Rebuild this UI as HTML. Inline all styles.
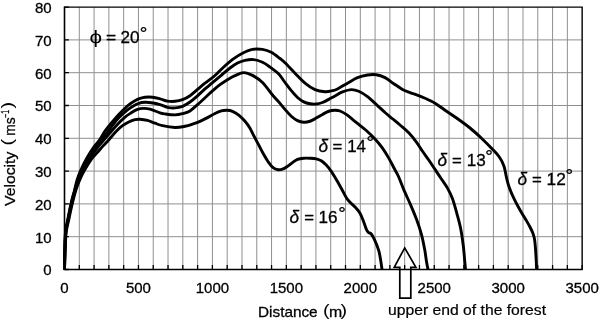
<!DOCTYPE html>
<html lang="en"><head><meta charset="utf-8"><title>Velocity vs distance</title>
<style>html,body{margin:0;padding:0;background:#fff}svg{display:block}text{font-family:"Liberation Sans",sans-serif;fill:#000}.cal{font-family:"Liberation Sans",sans-serif}</style></head><body>
<svg width="600" height="320" viewBox="0 0 600 320">
<rect width="600" height="320" fill="#fff"/>
<path d="M79.29 7.10 V269.50 M94.08 7.10 V269.50 M108.87 7.10 V269.50 M123.66 7.10 V269.50 M138.45 7.10 V269.50 M153.24 7.10 V269.50 M168.03 7.10 V269.50 M182.82 7.10 V269.50 M197.61 7.10 V269.50 M212.40 7.10 V269.50 M227.19 7.10 V269.50 M241.98 7.10 V269.50 M256.77 7.10 V269.50 M271.56 7.10 V269.50 M286.35 7.10 V269.50 M301.14 7.10 V269.50 M315.93 7.10 V269.50 M330.72 7.10 V269.50 M345.51 7.10 V269.50 M360.30 7.10 V269.50 M375.09 7.10 V269.50 M389.88 7.10 V269.50 M404.67 7.10 V269.50 M419.46 7.10 V269.50 M434.25 7.10 V269.50 M449.04 7.10 V269.50 M463.83 7.10 V269.50 M478.62 7.10 V269.50 M493.41 7.10 V269.50 M508.20 7.10 V269.50 M522.99 7.10 V269.50 M537.78 7.10 V269.50 M552.57 7.10 V269.50 M567.36 7.10 V269.50 M64.50 236.70 H582.15 M64.50 203.90 H582.15 M64.50 171.10 H582.15 M64.50 138.30 H582.15 M64.50 105.50 H582.15 M64.50 72.70 H582.15 M64.50 39.90 H582.15" stroke="#909090" stroke-width="1" fill="none"/>
<path d="M64.50 7.10 H582.15 V269.50" stroke="#000" stroke-width="1.4" fill="none"/>
<path d="M64.50 269.50 V265.10 M79.29 269.50 V265.10 M94.08 269.50 V265.10 M108.87 269.50 V265.10 M123.66 269.50 V265.10 M138.45 269.50 V265.10 M153.24 269.50 V265.10 M168.03 269.50 V265.10 M182.82 269.50 V265.10 M197.61 269.50 V265.10 M212.40 269.50 V265.10 M227.19 269.50 V265.10 M241.98 269.50 V265.10 M256.77 269.50 V265.10 M271.56 269.50 V265.10 M286.35 269.50 V265.10 M301.14 269.50 V265.10 M315.93 269.50 V265.10 M330.72 269.50 V265.10 M345.51 269.50 V265.10 M360.30 269.50 V265.10 M375.09 269.50 V265.10 M389.88 269.50 V265.10 M404.67 269.50 V265.10 M419.46 269.50 V265.10 M434.25 269.50 V265.10 M449.04 269.50 V265.10 M463.83 269.50 V265.10 M478.62 269.50 V265.10 M493.41 269.50 V265.10 M508.20 269.50 V265.10 M522.99 269.50 V265.10 M537.78 269.50 V265.10 M552.57 269.50 V265.10 M567.36 269.50 V265.10 M582.15 269.50 V265.10 M64.50 269.50 H68.90 M64.50 236.70 H68.90 M64.50 203.90 H68.90 M64.50 171.10 H68.90 M64.50 138.30 H68.90 M64.50 105.50 H68.90 M64.50 72.70 H68.90 M64.50 39.90 H68.90 M64.50 7.10 H68.90" stroke="#000" stroke-width="1.3" fill="none"/>
<path d="M64.50 6.60 V269.50 H582.75" stroke="#000" stroke-width="1.6" fill="none"/>
<path d="M64.50 269.50 C64.55 266.25 64.63 256.25 64.80 250.00 C64.97 243.75 65.02 237.00 65.50 232.00 C65.98 227.00 66.80 224.67 67.70 220.00 C68.60 215.33 69.75 209.00 70.90 204.00 C72.05 199.00 73.57 194.00 74.60 190.00 C75.63 186.00 76.15 183.12 77.10 180.00 C78.05 176.88 78.73 174.79 80.30 171.25 C81.87 167.71 84.17 162.88 86.50 158.75 C88.83 154.62 92.18 149.50 94.30 146.45 C96.42 143.40 97.42 142.97 99.20 140.43 C100.98 137.89 102.78 134.32 105.00 131.20 C107.22 128.08 110.17 124.53 112.50 121.70 C114.83 118.87 116.92 116.45 119.00 114.20 C121.08 111.95 123.17 109.91 125.00 108.20 C126.83 106.49 128.33 105.20 130.00 103.95 C131.67 102.70 133.33 101.62 135.00 100.70 C136.67 99.78 138.33 99.03 140.00 98.45 C141.67 97.87 142.92 97.41 145.00 97.20 C147.08 96.99 150.00 96.93 152.50 97.20 C155.00 97.47 157.50 98.15 160.00 98.80 C162.50 99.45 165.00 100.68 167.50 101.10 C170.00 101.52 172.50 101.53 175.00 101.30 C177.50 101.07 180.00 100.63 182.50 99.70 C185.00 98.77 187.50 97.41 190.00 95.70 C192.50 93.99 195.00 91.53 197.50 89.45 C200.00 87.37 202.08 85.53 205.00 83.20 C207.92 80.88 211.88 78.20 215.00 75.50 C218.12 72.80 220.62 69.80 223.75 67.00 C226.88 64.20 230.62 60.98 233.75 58.70 C236.88 56.42 239.38 54.85 242.50 53.30 C245.62 51.75 249.17 50.05 252.50 49.40 C255.83 48.75 259.38 48.92 262.50 49.40 C265.62 49.88 268.33 50.78 271.25 52.30 C274.17 53.82 277.71 56.77 280.00 58.50 C282.29 60.23 282.50 60.25 285.00 62.70 C287.50 65.15 291.67 69.78 295.00 73.20 C298.33 76.62 301.67 80.45 305.00 83.20 C308.33 85.95 311.67 88.28 315.00 89.70 C318.33 91.12 322.08 91.53 325.00 91.70 C327.92 91.87 330.42 91.16 332.50 90.70 C334.58 90.24 335.00 90.20 337.50 88.95 C340.00 87.70 344.17 85.08 347.50 83.20 C350.83 81.33 354.17 79.08 357.50 77.70 C360.83 76.33 364.38 75.45 367.50 74.95 C370.62 74.45 373.33 74.26 376.25 74.70 C379.17 75.14 382.08 76.10 385.00 77.60 C387.92 79.10 390.83 81.73 393.75 83.70 C396.67 85.67 399.79 87.92 402.50 89.40 C405.21 90.88 407.75 91.73 410.00 92.60 C412.25 93.47 413.50 93.67 416.00 94.60 C418.50 95.53 421.83 96.77 425.00 98.20 C428.17 99.63 431.67 101.20 435.00 103.20 C438.33 105.20 441.67 107.91 445.00 110.20 C448.33 112.49 450.83 113.98 455.00 116.95 C459.17 119.92 465.50 124.38 470.00 128.00 C474.50 131.62 478.33 135.25 482.00 138.70 C485.67 142.15 489.08 145.62 492.00 148.70 C494.92 151.78 497.50 154.28 499.50 157.20 C501.50 160.12 502.87 162.95 504.00 166.20 C505.13 169.45 505.47 173.28 506.30 176.70 C507.13 180.12 507.72 183.03 509.00 186.70 C510.28 190.37 512.17 194.82 514.00 198.70 C515.83 202.58 518.00 206.45 520.00 210.00 C522.00 213.55 524.33 217.17 526.00 220.00 C527.67 222.83 528.87 224.83 530.00 227.00 C531.13 229.17 532.07 231.08 532.80 233.00 C533.53 234.92 534.00 236.50 534.40 238.50 C534.80 240.50 534.98 242.75 535.20 245.00 C535.42 247.25 535.53 249.50 535.70 252.00 C535.87 254.50 536.05 257.08 536.20 260.00 C536.35 262.92 536.53 267.92 536.60 269.50" stroke="#000" stroke-width="2.9" fill="none" stroke-linejoin="round" stroke-linecap="butt"/>
<path d="M64.50 269.50 C64.57 266.25 64.70 256.25 64.90 250.00 C65.10 243.75 65.19 237.00 65.70 232.00 C66.21 227.00 67.03 224.67 67.95 220.00 C68.87 215.33 70.04 209.00 71.20 204.00 C72.36 199.00 73.78 194.00 74.90 190.00 C76.02 186.00 76.83 183.12 77.90 180.00 C78.97 176.88 79.62 174.79 81.30 171.25 C82.98 167.71 85.55 162.86 88.00 158.75 C90.45 154.64 93.83 149.60 96.00 146.57 C98.17 143.54 99.08 142.97 101.00 140.59 C102.92 138.21 105.58 134.85 107.50 132.30 C109.42 129.75 110.58 127.75 112.50 125.30 C114.42 122.85 116.71 120.02 119.00 117.60 C121.29 115.18 124.00 112.67 126.25 110.80 C128.50 108.93 130.42 107.65 132.50 106.40 C134.58 105.15 136.67 103.98 138.75 103.30 C140.83 102.62 142.92 102.40 145.00 102.30 C147.08 102.20 148.75 102.33 151.25 102.70 C153.75 103.08 157.29 103.78 160.00 104.55 C162.71 105.32 165.00 106.74 167.50 107.30 C170.00 107.86 172.50 108.05 175.00 107.90 C177.50 107.75 180.00 107.37 182.50 106.40 C185.00 105.42 187.50 103.82 190.00 102.05 C192.50 100.28 195.00 97.99 197.50 95.80 C200.00 93.61 202.50 91.08 205.00 88.90 C207.50 86.72 209.79 84.97 212.50 82.70 C215.21 80.43 218.33 77.75 221.25 75.30 C224.17 72.85 227.29 70.05 230.00 68.00 C232.71 65.95 235.00 64.28 237.50 63.00 C240.00 61.72 242.29 60.87 245.00 60.30 C247.71 59.73 250.83 59.27 253.75 59.60 C256.67 59.93 259.79 61.06 262.50 62.30 C265.21 63.54 267.29 65.09 270.00 67.05 C272.71 69.01 276.25 71.47 278.75 74.05 C281.25 76.62 282.92 79.74 285.00 82.50 C287.08 85.26 289.17 88.10 291.25 90.60 C293.33 93.10 295.42 95.62 297.50 97.50 C299.58 99.38 301.67 100.86 303.75 101.90 C305.83 102.94 307.92 103.40 310.00 103.75 C312.08 104.10 314.17 104.21 316.25 104.00 C318.33 103.79 320.42 103.27 322.50 102.50 C324.58 101.73 326.67 100.50 328.75 99.40 C330.83 98.30 332.71 97.15 335.00 95.90 C337.29 94.65 339.79 92.95 342.50 91.90 C345.21 90.85 348.54 89.71 351.25 89.60 C353.96 89.49 356.04 90.07 358.75 91.25 C361.46 92.43 364.38 94.31 367.50 96.70 C370.62 99.09 374.58 102.97 377.50 105.60 C380.42 108.23 382.50 110.31 385.00 112.50 C387.50 114.69 390.00 116.67 392.50 118.75 C395.00 120.83 397.25 122.62 400.00 125.00 C402.75 127.38 406.29 130.18 409.00 133.00 C411.71 135.82 414.00 138.86 416.25 141.90 C418.50 144.94 420.42 148.23 422.50 151.25 C424.58 154.27 426.67 156.97 428.75 160.00 C430.83 163.03 432.92 166.28 435.00 169.40 C437.08 172.53 439.17 175.63 441.25 178.75 C443.33 181.87 445.62 184.77 447.50 188.10 C449.38 191.43 450.95 194.55 452.50 198.75 C454.05 202.95 455.45 208.38 456.80 213.30 C458.15 218.23 459.52 222.88 460.60 228.30 C461.68 233.72 462.62 240.38 463.30 245.80 C463.98 251.22 464.33 256.85 464.70 260.80 C465.07 264.75 465.37 268.05 465.50 269.50" stroke="#000" stroke-width="2.9" fill="none" stroke-linejoin="round" stroke-linecap="butt"/>
<path d="M64.50 269.50 C64.58 266.25 64.78 256.25 65.00 250.00 C65.22 243.75 65.32 237.00 65.85 232.00 C66.38 227.00 67.25 224.67 68.20 220.00 C69.15 215.33 70.38 209.00 71.55 204.00 C72.72 199.00 74.03 194.00 75.25 190.00 C76.47 186.00 77.68 183.12 78.90 180.00 C80.12 176.88 80.82 174.79 82.60 171.25 C84.38 167.71 87.00 162.83 89.60 158.75 C92.20 154.67 95.93 149.73 98.20 146.74 C100.47 143.75 101.23 143.10 103.20 140.79 C105.17 138.49 107.87 135.38 110.00 132.90 C112.13 130.42 113.50 128.53 116.00 125.90 C118.50 123.28 122.46 119.33 125.00 117.15 C127.54 114.97 129.17 114.09 131.25 112.80 C133.33 111.51 135.42 110.13 137.50 109.40 C139.58 108.67 141.67 108.44 143.75 108.40 C145.83 108.36 147.29 108.42 150.00 109.15 C152.71 109.88 157.50 112.01 160.00 112.80 C162.50 113.59 162.50 113.55 165.00 113.90 C167.50 114.25 172.08 114.93 175.00 114.90 C177.92 114.87 180.00 114.37 182.50 113.70 C185.00 113.03 187.50 112.41 190.00 110.90 C192.50 109.39 195.00 106.83 197.50 104.65 C200.00 102.47 202.50 100.09 205.00 97.80 C207.50 95.51 210.00 93.09 212.50 90.90 C215.00 88.71 217.50 86.53 220.00 84.65 C222.50 82.78 225.00 81.15 227.50 79.65 C230.00 78.15 232.29 76.82 235.00 75.65 C237.71 74.48 240.83 72.69 243.75 72.65 C246.67 72.61 249.38 73.76 252.50 75.40 C255.62 77.04 259.17 79.21 262.50 82.48 C265.83 85.74 269.79 91.76 272.50 95.00 C275.21 98.24 276.67 99.50 278.75 101.90 C280.83 104.30 282.92 107.01 285.00 109.40 C287.08 111.79 289.17 114.38 291.25 116.25 C293.33 118.12 295.42 119.60 297.50 120.60 C299.58 121.60 301.67 122.14 303.75 122.25 C305.83 122.36 307.92 121.94 310.00 121.25 C312.08 120.56 314.17 119.24 316.25 118.10 C318.33 116.96 320.42 115.54 322.50 114.40 C324.58 113.26 326.67 111.94 328.75 111.25 C330.83 110.56 333.12 110.29 335.00 110.25 C336.88 110.21 338.12 110.31 340.00 111.00 C341.88 111.69 344.17 113.00 346.25 114.40 C348.33 115.80 350.42 117.73 352.50 119.40 C354.58 121.07 356.46 122.55 358.75 124.40 C361.04 126.25 363.54 128.08 366.25 130.50 C368.96 132.92 372.29 135.97 375.00 138.90 C377.71 141.83 380.21 144.90 382.50 148.10 C384.79 151.30 386.77 154.66 388.75 158.10 C390.73 161.54 392.77 165.68 394.40 168.75 C396.02 171.82 396.85 172.81 398.50 176.50 C400.15 180.19 402.30 186.22 404.30 190.90 C406.30 195.58 408.45 199.82 410.50 204.60 C412.55 209.38 414.77 214.60 416.60 219.60 C418.43 224.60 420.15 229.60 421.50 234.60 C422.85 239.60 423.88 245.22 424.70 249.60 C425.52 253.98 425.85 257.58 426.40 260.90 C426.95 264.22 427.73 268.07 428.00 269.50" stroke="#000" stroke-width="2.9" fill="none" stroke-linejoin="round" stroke-linecap="butt"/>
<path d="M64.50 269.50 C64.60 266.25 64.82 256.25 65.10 250.00 C65.38 243.75 65.60 237.00 66.20 232.00 C66.80 227.00 67.70 224.67 68.70 220.00 C69.70 215.33 71.00 209.00 72.20 204.00 C73.40 199.00 74.65 194.00 75.90 190.00 C77.15 186.00 78.37 183.12 79.70 180.00 C81.03 176.88 81.88 174.79 83.90 171.25 C85.92 167.71 89.50 161.96 91.80 158.75 C94.10 155.54 95.78 154.18 97.70 152.00 C99.62 149.82 101.47 147.67 103.30 145.65 C105.13 143.64 106.54 142.31 108.70 139.91 C110.86 137.50 113.95 133.57 116.25 131.20 C118.55 128.83 120.42 127.24 122.50 125.70 C124.58 124.16 126.67 122.95 128.75 121.95 C130.83 120.95 133.12 120.16 135.00 119.70 C136.88 119.24 137.92 119.08 140.00 119.20 C142.08 119.33 145.00 119.78 147.50 120.45 C150.00 121.12 152.50 122.33 155.00 123.20 C157.50 124.08 159.17 124.99 162.50 125.70 C165.83 126.41 171.25 127.35 175.00 127.45 C178.75 127.55 182.08 126.84 185.00 126.30 C187.92 125.76 190.00 125.03 192.50 124.20 C195.00 123.37 197.50 122.40 200.00 121.30 C202.50 120.20 205.00 118.91 207.50 117.60 C210.00 116.29 212.71 114.56 215.00 113.45 C217.29 112.34 219.27 111.48 221.25 110.95 C223.23 110.42 225.03 110.24 226.90 110.30 C228.78 110.36 230.53 110.50 232.50 111.30 C234.47 112.10 236.67 113.43 238.75 115.10 C240.83 116.77 243.12 119.12 245.00 121.30 C246.88 123.48 248.54 125.80 250.00 128.20 C251.46 130.60 252.29 132.88 253.75 135.70 C255.21 138.52 257.08 141.97 258.75 145.10 C260.42 148.22 262.08 151.53 263.75 154.45 C265.42 157.37 267.19 160.41 268.75 162.60 C270.31 164.79 271.54 166.42 273.10 167.60 C274.66 168.78 276.53 169.43 278.10 169.70 C279.67 169.97 280.93 169.77 282.50 169.20 C284.07 168.63 285.83 167.40 287.50 166.30 C289.17 165.20 290.83 163.74 292.50 162.60 C294.17 161.46 295.62 160.18 297.50 159.45 C299.38 158.72 301.67 158.41 303.75 158.20 C305.83 157.99 307.92 158.10 310.00 158.20 C312.08 158.30 314.38 158.38 316.25 158.80 C318.12 159.22 319.58 159.65 321.25 160.70 C322.92 161.75 324.58 163.33 326.25 165.10 C327.92 166.87 329.58 168.91 331.25 171.30 C332.92 173.69 334.58 176.63 336.25 179.45 C337.92 182.27 339.38 184.87 341.25 188.20 C343.12 191.53 345.21 196.32 347.50 199.45 C349.79 202.57 352.92 204.66 355.00 206.95 C357.08 209.24 358.54 210.70 360.00 213.20 C361.46 215.70 362.67 219.20 363.75 221.95 C364.83 224.70 365.71 227.94 366.50 229.70 C367.29 231.46 367.71 231.78 368.50 232.50 C369.29 233.22 370.25 232.80 371.25 234.00 C372.25 235.20 373.25 236.92 374.50 239.70 C375.75 242.48 377.71 247.20 378.75 250.70 C379.79 254.20 380.21 257.57 380.75 260.70 C381.29 263.83 381.79 268.03 382.00 269.50" stroke="#000" stroke-width="2.9" fill="none" stroke-linejoin="round" stroke-linecap="butt"/>
<path d="M404.7 247.9 L415.9 267.3 H410.8 V298.2 H399.8 V267.3 H394.2 Z" stroke="#000" stroke-width="1.7" fill="none" stroke-linejoin="miter"/>
<text x="51.6" y="275.40" font-size="15" text-anchor="end" stroke="#000" stroke-width="0.3">0</text>
<text x="51.6" y="242.60" font-size="15" text-anchor="end" stroke="#000" stroke-width="0.3">10</text>
<text x="51.6" y="209.80" font-size="15" text-anchor="end" stroke="#000" stroke-width="0.3">20</text>
<text x="51.6" y="177.00" font-size="15" text-anchor="end" stroke="#000" stroke-width="0.3">30</text>
<text x="51.6" y="144.20" font-size="15" text-anchor="end" stroke="#000" stroke-width="0.3">40</text>
<text x="51.6" y="111.40" font-size="15" text-anchor="end" stroke="#000" stroke-width="0.3">50</text>
<text x="51.6" y="78.60" font-size="15" text-anchor="end" stroke="#000" stroke-width="0.3">60</text>
<text x="51.6" y="45.80" font-size="15" text-anchor="end" stroke="#000" stroke-width="0.3">70</text>
<text x="51.6" y="13.00" font-size="15" text-anchor="end" stroke="#000" stroke-width="0.3">80</text>
<text x="64.50" y="293.4" font-size="15" text-anchor="middle" stroke="#000" stroke-width="0.3">0</text>
<text x="138.45" y="293.4" font-size="15" text-anchor="middle" stroke="#000" stroke-width="0.3">500</text>
<text x="212.40" y="293.4" font-size="15" text-anchor="middle" stroke="#000" stroke-width="0.3">1000</text>
<text x="286.35" y="293.4" font-size="15" text-anchor="middle" stroke="#000" stroke-width="0.3">1500</text>
<text x="360.30" y="293.4" font-size="15" text-anchor="middle" stroke="#000" stroke-width="0.3">2000</text>
<text x="434.25" y="293.4" font-size="15" text-anchor="middle" stroke="#000" stroke-width="0.3">2500</text>
<text x="508.20" y="293.4" font-size="15" text-anchor="middle" stroke="#000" stroke-width="0.3">3000</text>
<text x="582.15" y="293.4" font-size="15" text-anchor="middle" stroke="#000" stroke-width="0.3">3500</text>
<text x="258" y="316.6" font-size="15" textLength="59.6" lengthAdjust="spacingAndGlyphs" stroke="#000" stroke-width="0.3">Distance</text>
<text x="323" y="315.6" font-size="16" textLength="6.6" lengthAdjust="spacingAndGlyphs">(</text>
<text x="328.9" y="316.6" font-size="15" textLength="13.2" lengthAdjust="spacingAndGlyphs" stroke="#000" stroke-width="0.3">m</text>
<text x="340.6" y="315.6" font-size="16" textLength="6.6" lengthAdjust="spacingAndGlyphs">)</text>
<g transform="translate(15.4,206) rotate(-90)"><text x="0" y="0" font-size="15" textLength="54.4" lengthAdjust="spacingAndGlyphs" stroke="#000" stroke-width="0.3">Velocity</text><text x="60.6" y="-2.6" font-size="16" textLength="6.6" lengthAdjust="spacingAndGlyphs">(</text><text x="70.2" y="0" font-size="15" textLength="18.4" lengthAdjust="spacingAndGlyphs" stroke="#000" stroke-width="0.3">ms</text><text x="88.2" y="-6.9" font-size="10" textLength="7.9" lengthAdjust="spacingAndGlyphs" stroke="#000" stroke-width="0.3">−1</text><text x="97.5" y="-2.6" font-size="16" textLength="6.6" lengthAdjust="spacingAndGlyphs">)</text></g>
<text x="388" y="314.5" font-size="15.2" textLength="158" lengthAdjust="spacingAndGlyphs" stroke="#000" stroke-width="0.2">upper end of the forest</text>
<text x="89.6" y="43.0" font-size="18.6" textLength="12.6" lengthAdjust="spacingAndGlyphs">ϕ</text><text x="106.0" y="43.0" font-size="17.3" textLength="10.2" lengthAdjust="spacingAndGlyphs" stroke="#000" stroke-width="0.3">=</text><text x="120.6" y="43.0" font-size="17.3" textLength="19.0" lengthAdjust="spacingAndGlyphs" stroke="#000" stroke-width="0.3">20</text><text x="139.8" y="40.2" font-size="19" stroke="#000" stroke-width="0.3">°</text>
<text x="318.4" y="152.0" font-size="19" font-style="italic" textLength="9.6" lengthAdjust="spacingAndGlyphs" stroke="#000" stroke-width="0.3">δ</text><text x="332.6" y="152.0" font-size="17.3" textLength="9.8" lengthAdjust="spacingAndGlyphs" stroke="#000" stroke-width="0.3">=</text><text x="347.2" y="152.0" font-size="17.3" textLength="18.8" lengthAdjust="spacingAndGlyphs" stroke="#000" stroke-width="0.3">14</text><text x="366.4" y="149.2" font-size="19" stroke="#000" stroke-width="0.3">°</text>
<text x="437.6" y="165.5" font-size="19" font-style="italic" textLength="9.6" lengthAdjust="spacingAndGlyphs" stroke="#000" stroke-width="0.3">δ</text><text x="452.0" y="165.5" font-size="17.3" textLength="9.8" lengthAdjust="spacingAndGlyphs" stroke="#000" stroke-width="0.3">=</text><text x="466.8" y="165.5" font-size="17.3" textLength="19.0" lengthAdjust="spacingAndGlyphs" stroke="#000" stroke-width="0.3">13</text><text x="485.2" y="162.7" font-size="19" stroke="#000" stroke-width="0.3">°</text>
<text x="517.6" y="185.0" font-size="19" font-style="italic" textLength="9.6" lengthAdjust="spacingAndGlyphs" stroke="#000" stroke-width="0.3">δ</text><text x="532.0" y="185.0" font-size="17.3" textLength="9.8" lengthAdjust="spacingAndGlyphs" stroke="#000" stroke-width="0.3">=</text><text x="546.6" y="185.0" font-size="17.3" textLength="19.2" lengthAdjust="spacingAndGlyphs" stroke="#000" stroke-width="0.3">12</text><text x="565.6" y="182.2" font-size="19" stroke="#000" stroke-width="0.3">°</text>
<text x="289.6" y="222.8" font-size="19" font-style="italic" textLength="9.6" lengthAdjust="spacingAndGlyphs" stroke="#000" stroke-width="0.3">δ</text><text x="304.2" y="222.8" font-size="17.3" textLength="9.8" lengthAdjust="spacingAndGlyphs" stroke="#000" stroke-width="0.3">=</text><text x="318.6" y="222.8" font-size="17.3" textLength="19.0" lengthAdjust="spacingAndGlyphs" stroke="#000" stroke-width="0.3">16</text><text x="338.2" y="220.0" font-size="19" stroke="#000" stroke-width="0.3">°</text>
</svg></body></html>
